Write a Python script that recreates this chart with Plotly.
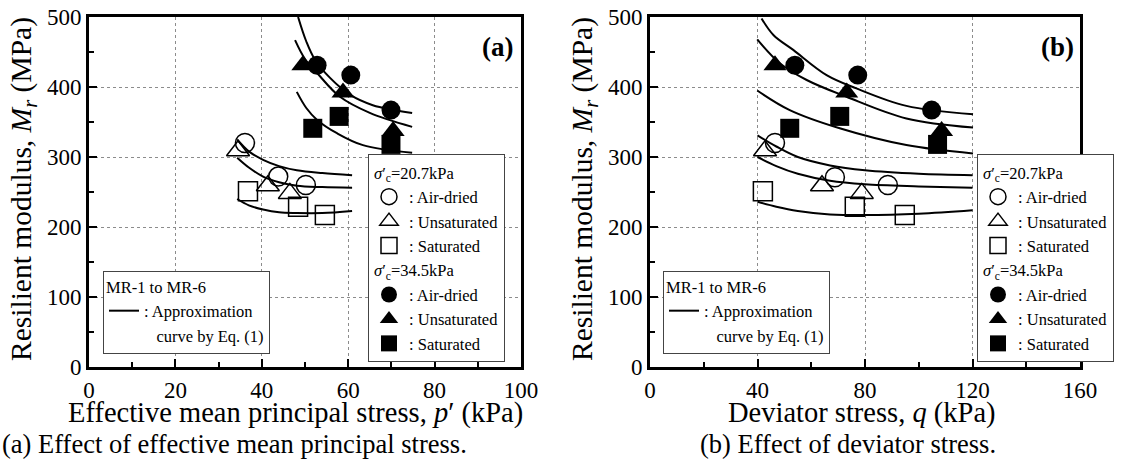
import plotly.graph_objects as go

FONT = "Liberation Serif"
W, H = 1126, 461

# ---------------- Panel (a): p' (kPa) vs Mr (MPa) ----------------
a_air20_p = [36.1, 43.8, 50.2]
a_air20_mr = [320, 272, 260]
a_uns20_p = [34.5, 41.4, 46.5]
a_uns20_mr = [309, 259, 248]
a_sat20_p = [36.8, 48.4, 54.6]
a_sat20_mr = [251, 229, 217]
a_air34_p = [52.8, 60.6, 69.9]
a_air34_mr = [431, 417, 367]
a_uns34_p = [49.5, 58.8, 70.4]
a_uns34_mr = [431, 392, 337]
a_sat34_p = [51.8, 57.9, 69.9]
a_sat34_mr = [341, 358, 318]

# approximation curves
a_curve1_p = [48.4, 50.3, 52.3, 55.8, 60.4, 65.7, 74.8]
a_curve1_mr = [500, 465, 439, 413, 389, 374, 363]
a_curve2_p = [47.7, 50.0, 52.8, 58.1, 65.0, 74.8]
a_curve2_mr = [467, 440, 420, 386, 363, 343]
a_curve3_p = [48.1, 50.3, 52.8, 57.4, 63.4, 74.8]
a_curve3_mr = [393, 370, 353, 334, 317, 306]
a_curve4_p = [34.3, 37.0, 40.3, 44.0, 48.1, 54.0, 60.9]
a_curve4_mr = [325, 308, 296, 287, 281, 277, 274]
a_curve5_p = [34.3, 37.0, 40.3, 44.0, 48.1, 54.0, 60.9]
a_curve5_mr = [299, 285, 272, 264, 259, 257, 256]
a_curve6_p = [34.3, 37.0, 40.3, 44.0, 48.1, 54.0, 60.9]
a_curve6_mr = [240, 231, 225, 221, 220, 220, 223]

# ---------------- Panel (b): q (kPa) vs Mr (MPa) ----------------
b_air20_q = [46.5, 68.8, 88.5]
b_air20_mr = [320, 271, 260]
b_uns20_q = [42.8, 64.0, 78.8]
b_uns20_mr = [309, 259, 248]
b_sat20_q = [42.0, 76.2, 94.8]
b_sat20_mr = [251, 229, 217]
b_air34_q = [53.9, 77.3, 104.8]
b_air34_mr = [431, 417, 367]
b_uns34_q = [46.5, 73.2, 108.5]
b_uns34_mr = [431, 392, 337]
b_sat34_q = [52.0, 70.6, 107.0]
b_sat34_mr = [341, 358, 318]

b_curve1_q = [41.5, 46.0, 53.3, 65.7, 76.8, 95.4, 120.2]
b_curve1_mr = [498, 474, 453, 417, 398, 373, 361]
b_curve2_q = [39.9, 48.3, 58.3, 73.1, 95.4, 120.2]
b_curve2_mr = [468, 434, 410, 386, 355, 342]
b_curve3_q = [39.9, 52.0, 70.6, 95.4, 120.2]
b_curve3_mr = [395, 367, 341, 317, 305]
b_curve4_q = [40, 47, 55, 67, 80, 100, 120]
b_curve4_mr = [331, 315, 300, 288, 281, 276, 274]
b_curve5_q = [40, 47, 55, 67, 80, 100, 120]
b_curve5_mr = [300, 287, 276, 266, 261, 258, 256]
b_curve6_q = [40, 47, 55, 67, 80, 100, 120]
b_curve6_mr = [236, 229, 223, 218, 217, 219, 224]

SIG20 = "<i>σ</i>′<sub>c</sub>=20.7kPa"
SIG34 = "<i>σ</i>′<sub>c</sub>=34.5kPa"
LEG_FONT = dict(family=FONT, size=16.5, color="black")
BIG = dict(family=FONT, size=28.5, color="black")
YBIG = dict(family=FONT, size=29.5, color="black")
LAB = dict(family=FONT, size=27, color="black")
CAP = dict(family=FONT, size=26.5, color="black")

fig = go.Figure()


def add_points(x, y, symbol, name, xa, ya, legend, group, gtitle):
    open_ = symbol.endswith("open")
    fig.add_trace(go.Scatter(
        x=x, y=y, mode="markers", name=name, xaxis=xa, yaxis=ya,
        legend=legend, legendgroup=group,
        legendgrouptitle=dict(text=gtitle, font=LEG_FONT),
        marker=dict(symbol=symbol, size=19 if "triangle" not in symbol else 20,
                    color="black",
                    line=dict(color="black", width=1.5 if open_ else 0)),
    ))


def add_curve(x, y, xa, ya, legend, show):
    fig.add_trace(go.Scatter(
        x=x, y=y, mode="lines", xaxis=xa, yaxis=ya, name=": Approximation",
        legend=legend, showlegend=show,
        line=dict(color="black", width=2, shape="spline", smoothing=1.0),
    ))


# panel a curves
a_curves = [(a_curve1_p, a_curve1_mr), (a_curve2_p, a_curve2_mr), (a_curve3_p, a_curve3_mr),
            (a_curve4_p, a_curve4_mr), (a_curve5_p, a_curve5_mr), (a_curve6_p, a_curve6_mr)]
for i, (cx, cy) in enumerate(a_curves):
    add_curve(cx, cy, "x", "y", "legend2", i == 0)
fig.add_trace(go.Scatter(x=[None], y=[None], mode="lines", xaxis="x", yaxis="y",
                         name="\u00a0\u00a0\u00a0curve by Eq. (1)", legend="legend2",
                         line=dict(color="rgba(0,0,0,0)", width=2)))

b_curves = [(b_curve1_q, b_curve1_mr), (b_curve2_q, b_curve2_mr), (b_curve3_q, b_curve3_mr),
            (b_curve4_q, b_curve4_mr), (b_curve5_q, b_curve5_mr), (b_curve6_q, b_curve6_mr)]
for i, (cx, cy) in enumerate(b_curves):
    add_curve(cx, cy, "x2", "y2", "legend4", i == 0)
fig.add_trace(go.Scatter(x=[None], y=[None], mode="lines", xaxis="x2", yaxis="y2",
                         name="\u00a0\u00a0\u00a0curve by Eq. (1)", legend="legend4",
                         line=dict(color="rgba(0,0,0,0)", width=2)))

# panel a points
add_points(a_air20_p, a_air20_mr, "circle-open", ": Air-dried", "x", "y", "legend", "a20", SIG20)
add_points(a_uns20_p, a_uns20_mr, "triangle-up-open", ": Unsaturated", "x", "y", "legend", "a20", SIG20)
add_points(a_sat20_p, a_sat20_mr, "square-open", ": Saturated", "x", "y", "legend", "a20", SIG20)
add_points(a_air34_p, a_air34_mr, "circle", ": Air-dried", "x", "y", "legend", "a34", SIG34)
add_points(a_uns34_p, a_uns34_mr, "triangle-up", ": Unsaturated", "x", "y", "legend", "a34", SIG34)
add_points(a_sat34_p, a_sat34_mr, "square", ": Saturated", "x", "y", "legend", "a34", SIG34)

# panel b points
add_points(b_air20_q, b_air20_mr, "circle-open", ": Air-dried", "x2", "y2", "legend3", "b20", SIG20)
add_points(b_uns20_q, b_uns20_mr, "triangle-up-open", ": Unsaturated", "x2", "y2", "legend3", "b20", SIG20)
add_points(b_sat20_q, b_sat20_mr, "square-open", ": Saturated", "x2", "y2", "legend3", "b20", SIG20)
add_points(b_air34_q, b_air34_mr, "circle", ": Air-dried", "x2", "y2", "legend3", "b34", SIG34)
add_points(b_uns34_q, b_uns34_mr, "triangle-up", ": Unsaturated", "x2", "y2", "legend3", "b34", SIG34)
add_points(b_sat34_q, b_sat34_mr, "square", ": Saturated", "x2", "y2", "legend3", "b34", SIG34)


def xaxis(domain, rng, dtick, mdtick, anchor):
    return dict(
        domain=domain, range=rng, dtick=dtick, tick0=0, anchor=anchor, automargin=False,
        ticks="inside", ticklen=8, tickwidth=2, tickcolor="black",
        minor=dict(ticks="inside", ticklen=5, tickwidth=2, tickcolor="black", dtick=mdtick, showgrid=False),
        showline=True, linewidth=3, linecolor="black", mirror=True,
        showgrid=True, gridcolor="#8c8c8c", griddash="dot", gridwidth=1, zeroline=False,
        tickfont=dict(family=FONT, size=23, color="black"),
    )


def yaxis(anchor):
    return dict(
        domain=[1 - 367 / H, 1 - 17 / H], range=[0, 500], dtick=100, tick0=0, anchor=anchor,
        automargin=False,
        ticks="inside", ticklen=8, tickwidth=2, tickcolor="black",
        minor=dict(ticks="inside", ticklen=5, tickwidth=2, tickcolor="black", dtick=50, showgrid=False),
        showline=True, linewidth=3, linecolor="black", mirror=True,
        showgrid=True, gridcolor="#8c8c8c", griddash="dot", gridwidth=1, zeroline=False,
        tickfont=dict(family=FONT, size=23, color="black"),
    )


leg_common = dict(bgcolor="white", bordercolor="#444", borderwidth=1, font=LEG_FONT,
                  tracegroupgap=0, xanchor="left", yanchor="top", itemsizing="trace",
                  xref="paper", yref="paper")


def ann(text, xpx, ypx, font, xanchor="center", angle=0):
    return dict(text=text, x=xpx / W, y=1 - ypx / H, xref="paper", yref="paper",
                xanchor=xanchor, yanchor="middle", showarrow=False, font=font, textangle=angle)


YTITLE = "Resilient modulus, <i>M<sub>r</sub></i> (MPa)"

fig.update_layout(
    width=W, height=H, margin=dict(l=0, r=0, t=0, b=0, autoexpand=False),
    paper_bgcolor="white", plot_bgcolor="white",
    font=dict(family=FONT, color="black"),
    xaxis=xaxis([89 / W, 521 / W], [0, 100], 20, 10, "y"),
    yaxis=yaxis("x"),
    xaxis2=xaxis([650 / W, 1080 / W], [0, 160], 40, 20, "y2"),
    yaxis2=yaxis("x2"),
    legend=dict(x=368 / W, y=1 - 154 / H, **leg_common),
    legend2=dict(x=103 / W, y=1 - 271 / H, title=dict(text="MR-1 to MR-6", font=LEG_FONT), **leg_common),
    legend3=dict(x=977 / W, y=1 - 154 / H, **leg_common),
    legend4=dict(x=663 / W, y=1 - 271 / H, title=dict(text="MR-1 to MR-6", font=LEG_FONT), **leg_common),
    annotations=[
        ann("<b>(a)</b>", 497, 47, LAB),
        ann("<b>(b)</b>", 1057, 47, LAB),
        ann(YTITLE, 23, 189, YBIG, angle=-90),
        ann(YTITLE, 584, 189, YBIG, angle=-90),
        ann("Effective mean principal stress, <i>p</i>′ (kPa)", 295, 413, BIG),
        ann("Deviator stress, <i>q</i> (kPa)", 862, 413, BIG),
        ann("(a) Effect of effective mean principal stress.", 0, 444, CAP, xanchor="left"),
        ann("(b) Effect of deviator stress.", 848, 444, CAP),
    ],
    showlegend=True,
)

fig.write_html("out.html", config={"displayModeBar": False},
               post_script="document.body.style.margin='0px';")
